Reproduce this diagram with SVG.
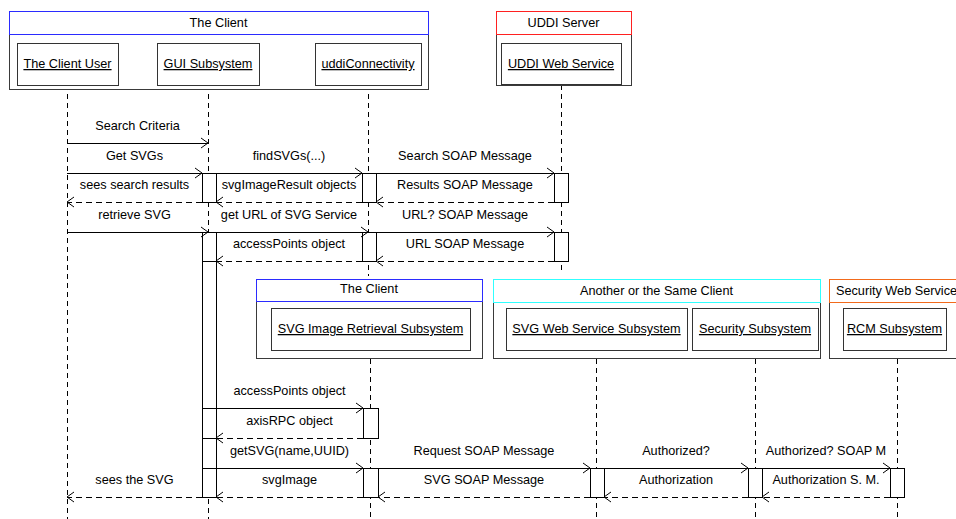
<svg xmlns="http://www.w3.org/2000/svg" width="956" height="519" viewBox="0 0 956 519">
<style>
text{font-family:"Liberation Sans",Arial,sans-serif;font-size:12.7px;fill:#000;text-anchor:middle}
.u{text-decoration:underline}
rect,line{shape-rendering:crispEdges}
.outer{fill:#fff;stroke:#3a3a3a;stroke-width:1}
.inner{fill:#fff;stroke:#333;stroke-width:1}
.hdr{fill:#fff;stroke-width:1}
.life{stroke:#000;stroke-width:1;stroke-dasharray:5,4;fill:none}
.act{fill:#fff;stroke:#000;stroke-width:1}
.msg{stroke:#000;stroke-width:1;fill:none;marker-end:url(#ah)}
.ret{stroke:#000;stroke-width:1;fill:none;stroke-dasharray:6,4;marker-end:url(#ah)}
</style>
<defs>
<marker id="ah" markerWidth="10" markerHeight="12" refX="8" refY="6" orient="auto" markerUnits="userSpaceOnUse">
<path d="M1,1 L8,6 L1,11" fill="none" stroke="#000" stroke-width="1" stroke-dasharray="none"/>
</marker>
</defs>
<rect width="956" height="519" fill="#fff"/>

<g id="lifelines">
<line class="life" x1="67" y1="85" x2="67" y2="519"/>
<line class="life" x1="208" y1="85" x2="208" y2="519"/>
<line class="life" x1="368" y1="85" x2="368" y2="276"/>
<line class="life" x1="561" y1="85" x2="561" y2="273"/>
<line class="life" x1="370" y1="350" x2="370" y2="519"/>
<line class="life" x1="596" y1="350" x2="596" y2="519"/>
<line class="life" x1="755" y1="350" x2="755" y2="519"/>
<line class="life" x1="897" y1="350" x2="897" y2="519"/>
</g>

<g id="group-the-client">
<rect class="outer" x="9" y="34" width="419" height="55"/>
<rect class="hdr" x="9" y="11" width="419" height="23" stroke="#2b2bff"/>
<text x="218.5" y="26.5">The Client</text>
</g>
<g id="node-client-user">
<rect class="inner" x="17" y="43" width="101" height="42"/>
<text class="u" x="67.5" y="68">The Client User</text>
</g>
<g id="node-gui">
<rect class="inner" x="157" y="43" width="102" height="42"/>
<text class="u" x="208" y="68">GUI Subsystem</text>
</g>
<g id="node-uddi-connectivity">
<rect class="inner" x="315" y="43" width="106" height="42"/>
<text class="u" x="368" y="68">uddiConnectivity</text>
</g>

<g id="group-uddi-server">
<rect class="outer" x="496" y="34" width="135" height="51"/>
<rect class="hdr" x="496" y="11" width="135" height="23" stroke="#ff2020"/>
<text x="563.5" y="26.5">UDDI Server</text>
</g>
<g id="node-uddi-web-service">
<rect class="inner" x="501" y="43" width="120" height="41"/>
<text class="u" x="561" y="68">UDDI Web Service</text>
</g>

<g id="group-the-client-2">
<rect class="outer" x="256" y="301" width="226" height="57"/>
<rect class="hdr" x="256" y="279" width="226" height="22" stroke="#2b2bff"/>
<text x="369" y="293">The Client</text>
</g>
<g id="node-svg-image-retrieval">
<rect class="inner" x="271" y="308" width="199" height="42"/>
<text class="u" x="370.5" y="333">SVG Image Retrieval Subsystem</text>
</g>

<g id="group-another-client">
<rect class="outer" x="493" y="302" width="327" height="56"/>
<rect class="hdr" x="493" y="279" width="327" height="23" stroke="#30ffff"/>
<text x="656.5" y="295">Another or the Same Client</text>
</g>
<g id="node-svg-web-service">
<rect class="inner" x="506" y="308" width="181" height="42"/>
<text class="u" x="596.5" y="333">SVG Web Service Subsystem</text>
</g>
<g id="node-security-subsystem">
<rect class="inner" x="692" y="308" width="126" height="42"/>
<text class="u" x="755" y="333">Security Subsystem</text>
</g>

<g id="group-security-web-service">
<rect class="outer" x="829" y="302" width="133" height="56"/>
<rect class="hdr" x="829" y="279" width="133" height="23" stroke="#f26a1b"/>
<text x="836" y="295" style="text-anchor:start">Security Web Service</text>
</g>
<g id="node-rcm">
<rect class="inner" x="843" y="308" width="103" height="42"/>
<text class="u" x="894.5" y="333">RCM Subsystem</text>
</g>

<g id="activations">
<rect class="act" x="202" y="173" width="14" height="29"/>
<rect class="act" x="362" y="173" width="14" height="29"/>
<rect class="act" x="554" y="173" width="14" height="29"/>
<rect class="act" x="202" y="232" width="14" height="29"/>
<rect class="act" x="202" y="261" width="14" height="236"/>
<line x1="202" y1="438" x2="216" y2="438" stroke="#000"/>
<line x1="202" y1="468" x2="216" y2="468" stroke="#000"/>
<rect class="act" x="362" y="232" width="14" height="29"/>
<rect class="act" x="554" y="232" width="14" height="29"/>
<rect class="act" x="363" y="408" width="15" height="30"/>
<rect class="act" x="363" y="468" width="15" height="29"/>
<rect class="act" x="590" y="468" width="14" height="29"/>
<rect class="act" x="748" y="468" width="14" height="29"/>
<rect class="act" x="890" y="468" width="14" height="29"/>
</g>

<g id="connectors">
<line class="msg" x1="67" y1="143" x2="208" y2="143"/>
<text x="137.5" y="130">Search Criteria</text>

<line class="msg" x1="67" y1="173" x2="202" y2="173"/>
<text x="134.5" y="160">Get SVGs</text>
<line class="msg" x1="216" y1="173" x2="362" y2="173"/>
<text x="289" y="160">findSVGs(...)</text>
<line class="msg" x1="376" y1="173" x2="554" y2="173"/>
<text x="465" y="160">Search SOAP Message</text>

<line class="ret" x1="202" y1="202" x2="67" y2="202"/>
<text x="134.5" y="189">sees search results</text>
<line class="ret" x1="362" y1="202" x2="216" y2="202"/>
<text x="289" y="189">svgImageResult objects</text>
<line class="ret" x1="554" y1="202" x2="376" y2="202"/>
<text x="465" y="189">Results SOAP Message</text>

<line class="msg" x1="67" y1="232" x2="208" y2="232"/>
<text x="134.5" y="219">retrieve SVG</text>
<line class="msg" x1="216" y1="232" x2="368" y2="232"/>
<text x="289" y="219">get URL of SVG Service</text>
<line class="msg" x1="376" y1="232" x2="554" y2="232"/>
<text x="465" y="219">URL? SOAP Message</text>

<line class="ret" x1="362" y1="261" x2="216" y2="261"/>
<text x="289" y="248">accessPoints object</text>
<line class="ret" x1="554" y1="261" x2="376" y2="261"/>
<text x="465" y="248">URL SOAP Message</text>

<line class="msg" x1="202" y1="408" x2="363" y2="408"/>
<text x="289.5" y="395">accessPoints object</text>
<line class="ret" x1="363" y1="438" x2="216" y2="438"/>
<text x="289.5" y="425">axisRPC object</text>

<line class="msg" x1="202" y1="468" x2="363" y2="468"/>
<text x="289.5" y="455">getSVG(name,UUID)</text>
<line class="msg" x1="378" y1="468" x2="590" y2="468"/>
<text x="484" y="455">Request SOAP Message</text>
<line class="msg" x1="604" y1="468" x2="748" y2="468"/>
<text x="676" y="455">Authorized?</text>
<line class="msg" x1="762" y1="468" x2="890" y2="468"/>
<text x="826" y="455">Authorized? SOAP M</text>

<line class="ret" x1="202" y1="497" x2="67" y2="497"/>
<text x="134.5" y="484">sees the SVG</text>
<line class="ret" x1="363" y1="497" x2="216" y2="497"/>
<text x="289.5" y="484">svgImage</text>
<line class="ret" x1="590" y1="497" x2="378" y2="497"/>
<text x="484" y="484">SVG SOAP Message</text>
<line class="ret" x1="748" y1="497" x2="604" y2="497"/>
<text x="676" y="484">Authorization</text>
<line class="ret" x1="890" y1="497" x2="762" y2="497"/>
<text x="826" y="484">Authorization S. M.</text>
</g>
</svg>
